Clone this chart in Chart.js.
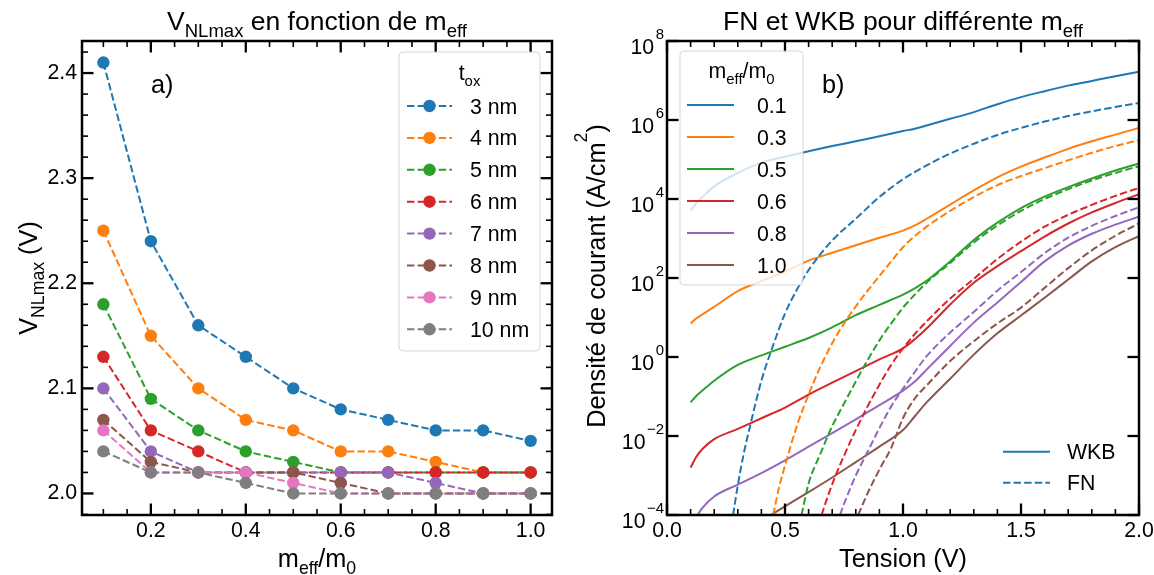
<!DOCTYPE html>
<html>
<head>
<meta charset="utf-8">
<script src="https://cdn.jsdelivr.net/npm/chart.js@4.4.1/dist/chart.umd.min.js"></script>
<style>
  html, body { margin: 0; padding: 0; background: #fff; }
  #wrap { position: relative; width: 1154px; height: 575px; }
  canvas { position: absolute; top: 0; }
  #chartA { left: 0; }
  #chartB { left: 560px; }
</style>
</head>
<body>
<div id="wrap">
  <canvas id="chartA" width="577" height="575"></canvas>
  <canvas id="chartB" width="594" height="575"></canvas>
</div>
<script>
// ---- panel a) : V_NLmax vs m_eff/m_0 ----
const meff = [0.1, 0.2, 0.3, 0.4, 0.5, 0.6, 0.7, 0.8, 0.9, 1.0];
const toxNm = [3, 4, 5, 6, 7, 8, 9, 10];
const vnl3nm  = [2.41, 2.24, 2.16, 2.13, 2.10, 2.08, 2.07, 2.06, 2.06, 2.05];
const vnl4nm  = [2.25, 2.15, 2.10, 2.07, 2.06, 2.04, 2.04, 2.03, 2.02, 2.02];
const vnl5nm  = [2.18, 2.09, 2.06, 2.04, 2.03, 2.02, 2.02, 2.02, 2.02, 2.02];
const vnl6nm  = [2.13, 2.06, 2.04, 2.02, 2.02, 2.02, 2.02, 2.02, 2.02, 2.02];
const vnl7nm  = [2.10, 2.04, 2.02, 2.02, 2.02, 2.02, 2.02, 2.01, 2.00, 2.00];
const vnl8nm  = [2.07, 2.03, 2.02, 2.02, 2.02, 2.01, 2.00, 2.00, 2.00, 2.00];
const vnl9nm  = [2.06, 2.02, 2.02, 2.02, 2.01, 2.00, 2.00, 2.00, 2.00, 2.00];
const vnl10nm = [2.04, 2.02, 2.02, 2.01, 2.00, 2.00, 2.00, 2.00, 2.00, 2.00];
const xTicksA = [0.2, 0.4, 0.6, 0.8, 1.0];
const yTicksA = [2.0, 2.1, 2.2, 2.3, 2.4];

// ---- panel b) : current density vs voltage (log10 of J read off the log axis) ----
const meffB = ['0.1', '0.3', '0.5', '0.6', '0.8', '1.0'];
const vGrid = [0.1, 0.125, 0.15, 0.2, 0.3, 0.4, 0.5, 0.6, 0.7, 0.8, 0.9, 1.0, 1.05, 1.1, 1.2, 1.3, 1.4, 1.5, 1.6, 1.7, 1.8, 1.9, 2.0];
const wkb01 = [3.7, 3.9, 4.05, 4.32, 4.66, 4.92, 5.07, 5.21, 5.34, 5.46, 5.59, 5.72, 5.78, 5.86, 6.03, 6.2, 6.4, 6.58, 6.73, 6.87, 6.99, 7.11, 7.22];
const wkb03 = [0.85, 0.98, 1.08, 1.27, 1.67, 1.92, 2.16, 2.44, 2.64, 2.83, 3.02, 3.2, 3.33, 3.5, 3.86, 4.22, 4.55, 4.82, 5.05, 5.27, 5.46, 5.63, 5.8];
const wkb05 = [-1.15, -0.98, -0.85, -0.6, -0.2, 0.04, 0.26, 0.48, 0.75, 1.06, 1.32, 1.58, 1.74, 1.93, 2.42, 2.96, 3.4, 3.77, 4.06, 4.3, 4.52, 4.72, 4.9];
const wkb06 = [-2.8, -2.52, -2.33, -2.08, -1.82, -1.55, -1.28, -0.95, -0.65, -0.36, -0.06, 0.22, 0.45, 0.72, 1.33, 1.88, 2.3, 2.68, 3.05, 3.38, 3.66, 3.9, 4.12];
const wkb08V = [0.13, 0.15, 0.2, 0.3, 0.4, 0.5, 0.6, 0.7, 0.8, 0.9, 1.0, 1.05, 1.1, 1.2, 1.3, 1.4, 1.5, 1.6, 1.7, 1.8, 1.9, 2.0];
const wkb08 = [-4.0, -3.82, -3.53, -3.23, -2.94, -2.62, -2.27, -1.93, -1.58, -1.22, -0.85, -0.62, -0.32, 0.28, 0.87, 1.38, 1.9, 2.42, 2.82, 3.12, 3.35, 3.55];
const wkb10V = [0.44, 0.5, 0.6, 0.7, 0.8, 0.9, 1.0, 1.05, 1.1, 1.2, 1.3, 1.4, 1.5, 1.6, 1.7, 1.8, 1.9, 2.0];
const wkb10 = [-4.0, -3.78, -3.42, -3.05, -2.66, -2.27, -1.85, -1.5, -1.15, -0.55, 0.06, 0.6, 1.05, 1.5, 1.96, 2.42, 2.78, 3.06];

const fn01V = [0.28, 0.3, 0.325, 0.35, 0.4, 0.45, 0.5, 0.55, 0.6, 0.7, 0.8, 0.9, 1.0, 1.1, 1.2, 1.3, 1.4, 1.5, 1.6, 1.7, 1.8, 1.9, 2.0];
const fn01 = [-4.0, -3.25, -2.45, -1.8, -0.6, 0.3, 1.1, 1.7, 2.2, 2.95, 3.5, 4.05, 4.5, 4.85, 5.15, 5.4, 5.62, 5.8, 5.96, 6.1, 6.22, 6.33, 6.43];
const fn03V = [0.45, 0.475, 0.5, 0.55, 0.6, 0.65, 0.7, 0.75, 0.8, 0.85, 0.9, 0.95, 1.0, 1.1, 1.2, 1.3, 1.4, 1.5, 1.6, 1.7, 1.8, 1.9, 2.0];
const fn03 = [-4.0, -3.3, -2.75, -1.75, -0.95, -0.25, 0.35, 0.85, 1.28, 1.68, 2.05, 2.42, 2.78, 3.3, 3.7, 4.05, 4.35, 4.58, 4.78, 4.98, 5.17, 5.34, 5.49];
const fn05V = [0.57, 0.6, 0.65, 0.7, 0.75, 0.8, 0.85, 0.9, 0.95, 1.0, 1.05, 1.1, 1.2, 1.3, 1.4, 1.5, 1.6, 1.7, 1.8, 1.9, 2.0];
const fn05 = [-4.0, -3.2, -2.45, -1.75, -1.18, -0.62, -0.08, 0.42, 0.85, 1.25, 1.58, 1.88, 2.38, 2.9, 3.33, 3.7, 4.0, 4.25, 4.47, 4.66, 4.83];
const fn06V = [0.655, 0.68, 0.7, 0.75, 0.8, 0.85, 0.9, 0.95, 1.0, 1.05, 1.1, 1.2, 1.3, 1.4, 1.5, 1.6, 1.7, 1.8, 1.9, 2.0];
const fn06 = [-4.0, -3.55, -3.22, -2.5, -1.85, -1.25, -0.7, -0.2, 0.22, 0.58, 0.9, 1.48, 1.98, 2.48, 2.92, 3.3, 3.6, 3.85, 4.08, 4.28];
const fn08V = [0.733, 0.75, 0.8, 0.85, 0.9, 0.95, 1.0, 1.05, 1.1, 1.2, 1.3, 1.4, 1.5, 1.6, 1.7, 1.8, 1.9, 2.0];
const fn08 = [-4.0, -3.72, -3.0, -2.4, -1.8, -1.25, -0.8, -0.38, 0.02, 0.62, 1.14, 1.68, 2.15, 2.63, 3.02, 3.32, 3.57, 3.79];
const fn10V = [0.81, 0.85, 0.9, 0.95, 1.0, 1.05, 1.1, 1.2, 1.3, 1.4, 1.5, 1.6, 1.7, 1.8, 1.9, 2.0];
const fn10 = [-4.0, -3.45, -2.85, -2.3, -1.55, -1.05, -0.72, -0.1, 0.4, 0.85, 1.25, 1.75, 2.25, 2.7, 3.07, 3.38];
const xTicksB = [0.0, 0.5, 1.0, 1.5, 2.0];
const yTicksB = [1e-4, 1e-2, 1e0, 1e2, 1e4, 1e6, 1e8];

const COLORS = ['#1f77b4', '#ff7f0e', '#2ca02c', '#d62728', '#9467bd', '#8c564b', '#e377c2', '#7f7f7f'];
const DASH = [7.4, 3.2];
const FONT = "'Liberation Sans', Arial, sans-serif";
const TICK_SIZE = 21.3, LABEL_SIZE = 25.3, TITLE_SIZE = 26.5;
const SX = 17; // right canvas starts 17px left of the figure middle

function fnt(size) { return size + 'px ' + FONT; }

// text with sub / superscripts: parts = [[text, 'sub'|'sup'|undefined], ...]
function richWidth(ctx, parts, size) {
  let w = 0;
  parts.forEach(p => { ctx.font = fnt(p[1] ? size * 0.7 : size); w += ctx.measureText(p[0]).width; });
  return w;
}
function drawRich(ctx, parts, x, y, size, align, supRaise) {
  const w = richWidth(ctx, parts, size);
  let cx = align === 'center' ? x - w / 2 : (align === 'right' ? x - w : x);
  ctx.textAlign = 'left';
  ctx.textBaseline = 'alphabetic';
  ctx.fillStyle = '#000';
  parts.forEach(p => {
    let dy = 0;
    if (p[1] === 'sub') dy = size * 0.27;
    if (p[1] === 'sup') dy = -size * (supRaise || 0.45);
    ctx.font = fnt(p[1] ? size * 0.7 : size);
    ctx.fillText(p[0], cx, y + dy);
    cx += ctx.measureText(p[0]).width;
  });
}
function drawRotated(ctx, parts, x, y, size, supRaise) {
  ctx.save();
  ctx.translate(x, y);
  ctx.rotate(-Math.PI / 2);
  drawRich(ctx, parts, 0, 0, size, 'center', supRaise);
  ctx.restore();
}
function seg(ctx, x1, y1, x2, y2) {
  ctx.beginPath(); ctx.moveTo(x1, y1); ctx.lineTo(x2, y2); ctx.stroke();
}
function legendBox(ctx, x, y, w, h) {
  const r = 4;
  ctx.beginPath();
  ctx.moveTo(x + r, y);
  ctx.arcTo(x + w, y, x + w, y + h, r);
  ctx.arcTo(x + w, y + h, x, y + h, r);
  ctx.arcTo(x, y + h, x, y, r);
  ctx.arcTo(x, y, x + w, y, r);
  ctx.closePath();
  ctx.fillStyle = 'rgba(255,255,255,0.8)';
  ctx.fill();
  ctx.strokeStyle = 'rgba(204,204,204,0.8)';
  ctx.lineWidth = 1;
  ctx.stroke();
}

// inward ticks on all four sides + frame
function drawFrame(ctx, chart, xMajor, xMinor, yMajor, yMinor) {
  const a = chart.chartArea, xs = chart.scales.x, ys = chart.scales.y;
  ctx.strokeStyle = '#000';
  ctx.setLineDash([]);
  [[xMinor, 6, 1.6], [xMajor, 11.5, 2.3]].forEach(([vals, len, lw]) => {
    ctx.lineWidth = lw;
    vals.forEach(v => {
      const p = xs.getPixelForValue(v);
      seg(ctx, p, a.bottom, p, a.bottom - len);
      seg(ctx, p, a.top, p, a.top + len);
    });
  });
  [[yMinor, 6, 1.6], [yMajor, 11.5, 2.3]].forEach(([vals, len, lw]) => {
    ctx.lineWidth = lw;
    vals.forEach(v => {
      const p = ys.getPixelForValue(v);
      seg(ctx, a.left, p, a.left + len, p);
      seg(ctx, a.right, p, a.right - len, p);
    });
  });
  ctx.lineWidth = 2.5;
  ctx.strokeRect(a.left, a.top, a.right - a.left, a.bottom - a.top);
}

const minorA_x = [], minorA_y = [], minorB_x = [];
for (let i = 2; i <= 20; i++) if (i % 4 !== 0) minorA_x.push(i * 0.05);
for (let i = 99; i <= 121; i++) if (i % 5 !== 0) minorA_y.push(i * 0.02);
for (let i = 1; i < 20; i++) if (i % 5 !== 0) minorB_x.push(i * 0.1);

const decorA = {
  id: 'decorA',
  afterDatasetsDraw(chart) {
    const ctx = chart.ctx;
    ctx.save();
    drawFrame(ctx, chart, xTicksA, minorA_x, yTicksA, minorA_y);
    // titles and labels
    drawRich(ctx, [['V'], ['NLmax', 'sub'], [' en fonction de m'], ['eff', 'sub']], 317, 30, TITLE_SIZE, 'center');
    drawRich(ctx, [['m'], ['eff', 'sub'], ['/m'], ['0', 'sub']], 317, 567, LABEL_SIZE, 'center');
    drawRotated(ctx, [['V'], ['NLmax', 'sub'], [' (V)']], 37, 278, LABEL_SIZE);
    drawRich(ctx, [['a)']], 151, 93, LABEL_SIZE, 'left');
    // legend
    legendBox(ctx, 399, 52, 141, 299);
    drawRich(ctx, [['t'], ['ox', 'sub']], 469.5, 80, TICK_SIZE, 'center');
    toxNm.forEach((t, i) => {
      const y = 106 + i * 31.9;
      ctx.strokeStyle = COLORS[i];
      ctx.lineWidth = 2;
      ctx.setLineDash(DASH);
      seg(ctx, 407, y, 452, y);
      ctx.setLineDash([]);
      ctx.fillStyle = COLORS[i];
      ctx.beginPath(); ctx.arc(429.5, y, 6.2, 0, Math.PI * 2); ctx.fill();
      drawRich(ctx, [[t + ' nm']], 470, y + 7.5, TICK_SIZE, 'left');
    });
    ctx.restore();
  }
};

const decorB = {
  id: 'decorB',
  afterDatasetsDraw(chart) {
    const ctx = chart.ctx, a = chart.chartArea, ys = chart.scales.y;
    ctx.save();
    drawFrame(ctx, chart, xTicksB, minorB_x, yTicksB, []);
    // log tick labels 10^n
    yTicksB.forEach(v => {
      const e = Math.round(Math.log10(v));
      const py = ys.getPixelForValue(v);
      const ex = e < 0 ? '\u2212' + (-e) : String(e);
      ctx.font = fnt(TICK_SIZE * 0.7);
      const we = ctx.measureText(ex).width;
      ctx.font = fnt(TICK_SIZE);
      const wb = ctx.measureText('10').width;
      const right = a.left - 3;
      ctx.fillStyle = '#000';
      ctx.textAlign = 'left';
      ctx.textBaseline = 'alphabetic';
      ctx.fillText('10', right - we - 1.5 - wb, py + 12.5);
      ctx.font = fnt(TICK_SIZE * 0.7);
      ctx.fillText(ex, right - we, py - 2.5);
    });
    drawRich(ctx, [['FN et WKB pour diff\u00e9rente m'], ['eff', 'sub']], 326 + SX, 30, TITLE_SIZE, 'center');
    drawRich(ctx, [['Tension (V)']], 326 + SX, 567, LABEL_SIZE, 'center');
    drawRotated(ctx, [['Densit\u00e9 de courant (A/cm'], ['2', 'sup'], [')']], 28 + SX, 276, LABEL_SIZE, 0.7);
    drawRich(ctx, [['b)']], 245 + SX, 93, LABEL_SIZE, 'left');
    // m_eff legend
    legendBox(ctx, 103 + SX, 51, 123, 234);
    drawRich(ctx, [['m'], ['eff', 'sub'], ['/m'], ['0', 'sub']], 164.5 + SX, 78, TICK_SIZE, 'center');
    meffB.forEach((m, i) => {
      const y = 105 + i * 32;
      ctx.strokeStyle = COLORS[i];
      ctx.lineWidth = 2;
      ctx.setLineDash([]);
      seg(ctx, 110 + SX, y, 157 + SX, y);
      drawRich(ctx, [[m]], 180 + SX, y + 7.5, TICK_SIZE, 'left');
    });
    // WKB / FN style legend
    ctx.strokeStyle = COLORS[0];
    ctx.lineWidth = 2;
    seg(ctx, 426 + SX, 451.7, 473 + SX, 451.7);
    ctx.setLineDash(DASH);
    seg(ctx, 426 + SX, 482.7, 473 + SX, 482.7);
    ctx.setLineDash([]);
    drawRich(ctx, [['WKB']], 490 + SX, 451.7 + 7.5, TICK_SIZE, 'left');
    drawRich(ctx, [['FN']], 490 + SX, 482.7 + 7.5, TICK_SIZE, 'left');
    ctx.restore();
  }
};

function axisX(min, max, ticks) {
  return {
    type: 'linear', min, max,
    grid: { display: false, drawTicks: false }, border: { display: false },
    afterBuildTicks: s => { s.ticks = ticks.map(v => ({ value: v })); },
    afterFit: s => { s.height = 60; s.paddingLeft = 0; s.paddingRight = 0; },
    ticks: { padding: 3, color: '#000', font: { family: FONT, size: TICK_SIZE }, maxRotation: 0, autoSkip: false,
             callback: v => Number(v).toFixed(1) }
  };
}

const vnlSeries = [vnl3nm, vnl4nm, vnl5nm, vnl6nm, vnl7nm, vnl8nm, vnl9nm, vnl10nm];

new Chart(document.getElementById('chartA'), {
  type: 'line',
  data: {
    datasets: vnlSeries.map((vals, i) => ({
      label: toxNm[i] + ' nm',
      data: meff.map((m, j) => ({ x: m, y: vals[j] })),
      borderColor: COLORS[i], backgroundColor: COLORS[i],
      pointBackgroundColor: COLORS[i], pointBorderWidth: 0, pointRadius: 6.2,
      borderWidth: 2, borderDash: DASH, tension: 0, order: -i
    }))
  },
  options: {
    responsive: false, animation: false, devicePixelRatio: 1,
    layout: { padding: { left: 0, right: 25, top: 41, bottom: 0 } },
    plugins: { legend: { display: false }, tooltip: { enabled: false } },
    scales: {
      x: axisX(0.055, 1.045, xTicksA),
      y: {
        type: 'linear', min: 1.9795, max: 2.4305,
        grid: { display: false, drawTicks: false }, border: { display: false },
        afterBuildTicks: s => { s.ticks = yTicksA.map(v => ({ value: v })); },
        afterFit: s => { s.width = 82; s.paddingTop = 0; s.paddingBottom = 0; },
        ticks: { padding: 5, color: '#000', font: { family: FONT, size: TICK_SIZE }, callback: v => Number(v).toFixed(1) }
      }
    }
  },
  plugins: [decorA]
});

const curvesB = [
  [vGrid, wkb01, 0, false], [vGrid, wkb03, 1, false], [vGrid, wkb05, 2, false],
  [vGrid, wkb06, 3, false], [wkb08V, wkb08, 4, false], [wkb10V, wkb10, 5, false],
  [fn01V, fn01, 0, true], [fn03V, fn03, 1, true], [fn05V, fn05, 2, true],
  [fn06V, fn06, 3, true], [fn08V, fn08, 4, true], [fn10V, fn10, 5, true]
];

new Chart(document.getElementById('chartB'), {
  type: 'line',
  data: {
    datasets: curvesB.map(([vs, logs, c, dashed], k) => ({
      label: (dashed ? 'FN ' : 'WKB ') + meffB[c],
      data: vs.map((v, j) => ({ x: v, y: Math.pow(10, logs[j]) })),
      borderColor: COLORS[c], backgroundColor: COLORS[c],
      borderWidth: 2, borderDash: dashed ? DASH : [], pointRadius: 0,
      cubicInterpolationMode: 'monotone', clip: 0, order: -k
    }))
  },
  options: {
    responsive: false, animation: false, devicePixelRatio: 1,
    layout: { padding: { left: 0, right: 15, top: 41, bottom: 0 } },
    plugins: { legend: { display: false }, tooltip: { enabled: false } },
    scales: {
      x: axisX(0, 2, xTicksB),
      y: {
        type: 'logarithmic', min: 1e-4, max: 1e8,
        grid: { display: false, drawTicks: false }, border: { display: false },
        afterBuildTicks: s => { s.ticks = yTicksB.map(v => ({ value: v })); },
        afterFit: s => { s.width = 90 + SX; s.paddingTop = 0; s.paddingBottom = 0; },
        ticks: { display: false }
      }
    }
  },
  plugins: [decorB]
});
</script>
</body>
</html>
